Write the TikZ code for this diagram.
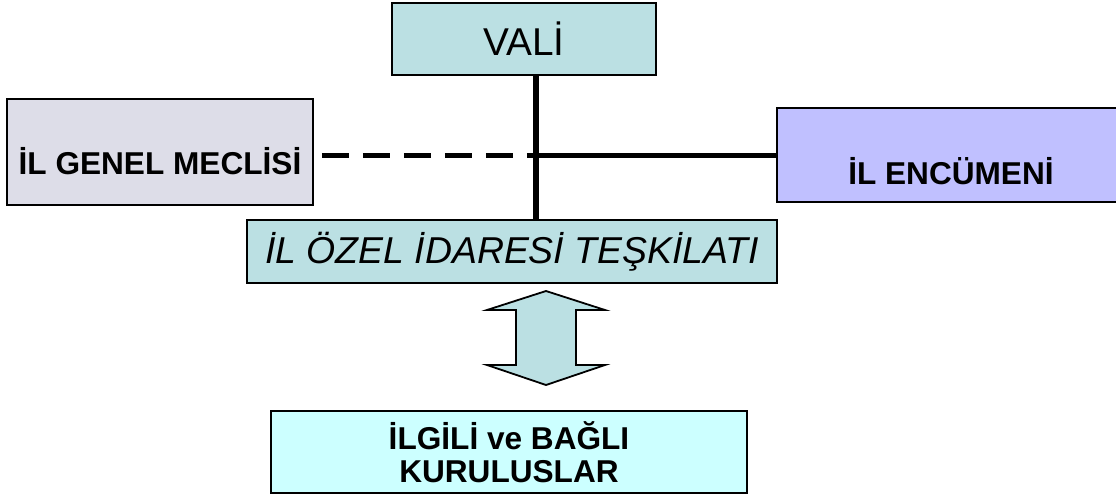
\documentclass[tikz,border=0pt]{standalone}
\usepackage{fontspec}
\setmainfont{Liberation Sans}
\usetikzlibrary{positioning,calc}
\definecolor{kutumavi}{HTML}{BBE0E3}
\definecolor{meclisgri}{HTML}{DDDDE8}
\definecolor{encumenmor}{HTML}{C0C0FF}
\definecolor{kurulusmavi}{HTML}{CCFFFF}
\tikzset{
  kutu/.style={draw=black, line width=0.8pt, inner sep=0pt},
  baglanti/.style={line width=3pt},
  okstil/.style={draw=black, line width=0.9pt, fill=kutumavi},
}
\begin{document}
\begin{tikzpicture}[x=0.5pt,y=-0.5pt]
\useasboundingbox (0,0) rectangle (1116,494);
% kutular
\node[kutu, fill=kutumavi, minimum width=132pt, minimum height=36pt, font=\fontsize{19.4}{22}\selectfont] (vali) at (524,39) {VALİ};
\node[kutu, fill=meclisgri, minimum width=153pt, minimum height=53pt, text height=22pt, text depth=0pt, font=\bfseries\fontsize{15.8}{18}\selectfont] (meclis) at (160,152) {İL GENEL MECLİSİ};
\node[kutu, fill=encumenmor, minimum width=174pt, minimum height=47pt, text height=29.6pt, text depth=0pt, font=\bfseries\fontsize{15.8}{18}\selectfont] (encumen) at (951,155) {İL ENCÜMENİ};
\node[kutu, fill=kutumavi, minimum width=265pt, minimum height=31.5pt, font=\itshape\fontsize{18.7}{22}\selectfont] (ozel) at (512,251.5) {İL ÖZEL İDARESİ TEŞKİLATI};
\node[kutu, fill=kurulusmavi, minimum width=238pt, minimum height=41pt, align=center, font=\bfseries\fontsize{15.8}{16.5}\selectfont] (kurulus) at (509,452) {İLGİLİ ve BAĞLI\\KURULUSLAR};
% baglantilar
\coordinate (kavsak) at (536,155);
\draw[baglanti] (vali.south -| kavsak) -- (ozel.north -| kavsak);
\draw[baglanti, line width=2.5pt, dash pattern=on 13.5pt off 7pt, shorten <=4pt] (meclis.east |- kavsak) -- (kavsak);
\draw[baglanti, line width=2.5pt] (kavsak) -- (encumen.west |- kavsak);
% cift yonlu ok
\coordinate (okmerkez) at (546,338);
\draw[okstil] ($(okmerkez)+(0,-47)$) -- ++(59,19) -- ++(-29,0) -- ++(0,55) -- ++(29,0) -- ++(-59,20) -- ++(-59,-20) -- ++(29,0) -- ++(0,-55) -- ++(-29,0) -- cycle;
\end{tikzpicture}
\end{document}
